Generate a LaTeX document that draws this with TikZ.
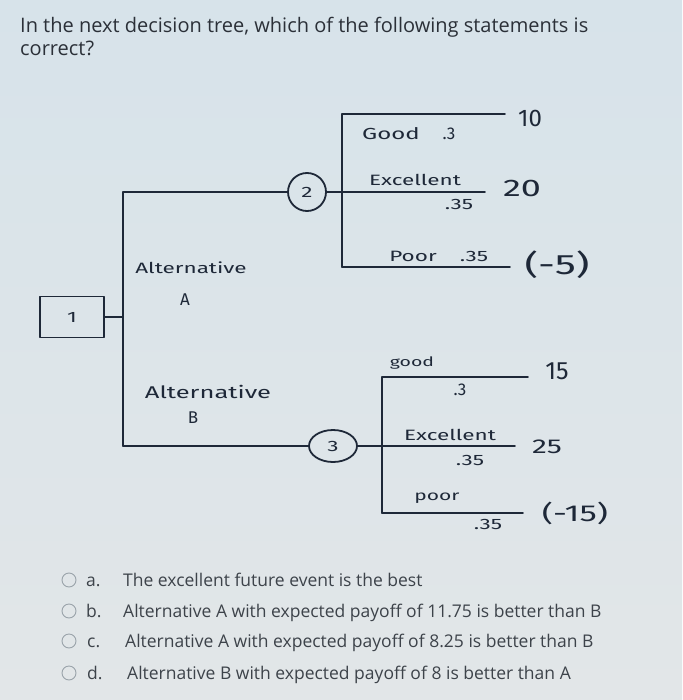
\documentclass[tikz,border=0pt]{standalone}
\usepackage{fontspec}
\setmainfont{Open Sans}
\newfontfamily\hand[FakeStretch=1.5]{Fira Sans}
\newfontfamily\handn{Fira Sans}
\usetikzlibrary{shapes.geometric}
\definecolor{ink}{HTML}{1E2838}
\definecolor{titlec}{HTML}{2B3038}
\definecolor{optc}{HTML}{3D434A}
\definecolor{radioc}{HTML}{9AA3AA}
\definecolor{bgtop}{HTML}{D7E3EA}
\definecolor{bgbot}{HTML}{E2E6E8}
\begin{document}
\begin{tikzpicture}[x=1pt,y=-1pt,
  pen/.style={draw=ink, line width=1.8pt, line cap=round, line join=round},
  lbl/.style={text=ink, font=\hand\fontsize{15}{15}\selectfont, inner sep=0pt},
  big/.style={text=ink, font=\hand\fontsize{22}{22}\selectfont, inner sep=0pt},
  ttl/.style={anchor=base west, text=titlec, font=\fontsize{20}{24}\selectfont, inner sep=0pt},
  opt/.style={anchor=base west, text=optc, font=\fontsize{17.5}{20}\selectfont, inner sep=0pt},
  radio/.style={circle, draw=radioc, line width=0.9pt, minimum size=14pt, inner sep=0pt}]
\useasboundingbox (0,0) rectangle (682,700);
\shade[top color=bgtop, bottom color=bgbot] (0,0) rectangle (682,700);

% title
\node[ttl] (t1) at (20,33) {In the next decision tree, which of the following statements is};
\node[ttl] (t2) at (20,56) {correct?};

% decision node 1
\node[pen, rectangle, minimum width=64pt, minimum height=41pt, lbl] (n1) at (72,317) {1};
\coordinate (tA) at (123,192);
\coordinate (tM) at (123,317);
\coordinate (tB) at (123,446);
\draw[pen] (tA) -- (tB);
\draw[pen] (n1.east) -- (tM);

% chance node 2
\node[pen, circle, minimum size=38pt, lbl] (n2) at (307,192) {2};
\draw[pen] (tA) -- (n2.west);
\coordinate (j2) at (342,192);
\coordinate (j2t) at (342,114);
\coordinate (j2b) at (342,267);
\coordinate (e2g) at (505,114);
\coordinate (e2e) at (485,192);
\coordinate (e2p) at (510,267);
\draw[pen] (n2.east) -- (j2);
\draw[pen] (j2t) -- (j2b);
\draw[pen] (j2t) -- (e2g);
\draw[pen] (j2) -- (e2e);
\draw[pen] (j2b) -- (e2p);

% chance node 3
\node[pen, ellipse, minimum width=48pt, minimum height=32pt, inner sep=0pt, lbl] (n3) at (333,446) {3};
\draw[pen] (tB) -- (n3.west);
\coordinate (j3) at (382,446);
\coordinate (j3t) at (382,377);
\coordinate (j3b) at (382,513);
\coordinate (e3g) at (528,377);
\coordinate (e3e) at (515,446);
\coordinate (e3p) at (523,513);
\draw[pen] (n3.east) -- (j3);
\draw[pen] (j3t) -- (j3b);
\draw[pen] (j3t) -- (e3g);
\draw[pen] (j3) -- (e3e);
\draw[pen] (j3b) -- (e3p);

% labels alternative
\node[lbl] (la1) at (191,268) {Alternative};
\node[lbl, font=\handn\fontsize{17}{17}\selectfont] (la2) at (185,300) {A};
\node[lbl, font=\hand\fontsize{17}{17}\selectfont] (lb1) at (208,392) {Alternative};
\node[lbl, font=\handn\fontsize{17}{17}\selectfont] (lb2) at (193,418) {B};

% node 2 labels
\node[lbl, font=\hand\fontsize{16}{16}\selectfont] (g2) at (391,134) {Good};
\node[lbl, font=\handn\fontsize{17}{17}\selectfont] (g2p) at (449,134) {.3};
\node[big, font=\handn\fontsize{24}{24}\selectfont] (v10) at (530,118) {10};
\node[lbl] (x2) at (415,180) {Excellent};
\node[lbl] (x2p) at (459,204) {.35};
\node[big, font=\hand\fontsize{24}{24}\selectfont] (v20) at (522,188) {20};
\node[lbl] (p2) at (413,256) {Poor};
\node[lbl] (p2p) at (474,256) {.35};
\node[big, font=\hand\fontsize{28}{28}\selectfont] (vm5) at (557,265) {(-5)};

% node 3 labels
\node[lbl, font=\hand\fontsize{13}{13}\selectfont] (g3) at (412,363) {good};
\node[lbl, font=\handn\fontsize{17}{17}\selectfont] (g3p) at (460,390) {.3};
\node[big, font=\handn\fontsize{25}{25}\selectfont] (v15) at (557,371) {15};
\node[lbl] (x3) at (450,435) {Excellent};
\node[lbl] (x3p) at (470,460) {.35};
\node[big, font=\hand\fontsize{20}{20}\selectfont] (v25) at (547,447) {25};
\node[lbl, font=\hand\fontsize{14}{14}\selectfont] (p3) at (437,498) {poor};
\node[lbl] (p3p) at (488,524) {.35};
\node[big, font=\hand\fontsize{23}{23}\selectfont] (vm15) at (575,513) {(-15)};

% options
\node[radio] (ra) at (69,580) {};
\node[radio] (rb) at (69,611) {};
\node[radio] (rc) at (69,641) {};
\node[radio] (rd) at (69,673) {};
\node[opt] (la) at (86,586) {a.};
\node[opt] (lb) at (86,617) {b.};
\node[opt] (lc) at (87,647) {c.};
\node[opt] (ld) at (87,679) {d.};
\node[opt] (oa) at (123,586) {The excellent future event is the best};
\node[opt] (ob) at (123,617) {Alternative A with expected payoff of 11.75 is better than B};
\node[opt] (oc) at (125,647) {Alternative A with expected payoff of 8.25 is better than B};
\node[opt] (od) at (127,679) {Alternative B with expected payoff of 8 is better than A};
\end{tikzpicture}
\end{document}
